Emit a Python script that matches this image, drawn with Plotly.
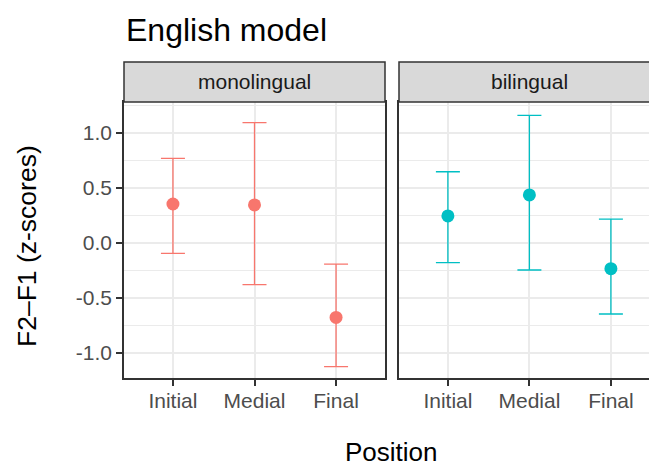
import plotly.graph_objects as go

positions = ["Initial", "Medial", "Final"]
panels = ["monolingual", "bilingual"]
mono_mean = [0.352, 0.343, -0.679]
mono_upper = [0.767, 1.091, -0.194]
mono_lower = [-0.097, -0.382, -1.127]
bi_mean = [0.243, 0.434, -0.236]
bi_upper = [0.645, 1.158, 0.215]
bi_lower = [-0.182, -0.248, -0.648]
y_tickvals = [-1.0, -0.5, 0.0, 0.5, 1.0]
y_ticktext = ["-1.0", "-0.5", "0.0", "0.5", "1.0"]

colors = ["#F8766D", "#00BFC4"]
FONT = "Liberation Sans, Arial, Helvetica, sans-serif"

W, H = 649, 468
ML, MR, MT, MB = 124, 0, 102, 90
PW = W - ML - MR
PH = H - MT - MB

fig = go.Figure()

series = [(mono_mean, mono_upper, mono_lower), (bi_mean, bi_upper, bi_lower)]
for i, (m, up, lo) in enumerate(series):
    fig.add_trace(go.Scatter(
        x=positions, y=m,
        mode="markers",
        marker=dict(color=colors[i], size=13),
        error_y=dict(type="data", symmetric=False,
                     array=[u - v for u, v in zip(up, m)],
                     arrayminus=[v - l for v, l in zip(m, lo)],
                     color=colors[i], thickness=1.3, width=12),
        xaxis="x" if i == 0 else "x2",
        yaxis="y" if i == 0 else "y2",
        showlegend=False, hoverinfo="skip",
    ))

step = 81.5  # px per category
left_w = 261
right_start = 275
d1 = [0, left_w / PW]
d2 = [right_start / PW, 1]
right_units = (PW - right_start) / step

xcommon = dict(type="category", categoryorder="array", categoryarray=positions,
               showgrid=True, gridcolor="#EBEBEB", gridwidth=2,
               ticks="outside", ticklen=6, tickwidth=1.5, tickcolor="#333333",
               tickfont=dict(family=FONT, size=21, color="#4D4D4D"),
               ticklabelstandoff=-3,
               showline=True, linecolor="#333333", linewidth=1.5, zeroline=False)
ycommon = dict(range=[(242.7 - 378) / 110, (242.7 - 102) / 110],
               tickvals=y_tickvals, ticktext=y_ticktext,
               showgrid=True, gridcolor="#EBEBEB", gridwidth=2,
               minor=dict(dtick=0.25, tick0=0, showgrid=True, gridcolor="#EBEBEB", gridwidth=1, ticks=""),
               zeroline=False, showline=True, linecolor="#333333", linewidth=1.5)

fig.update_layout(
    width=W, height=H,
    margin=dict(l=ML, r=MR, t=MT, b=MB, pad=0),
    paper_bgcolor="white", plot_bgcolor="white",
    xaxis=dict(domain=d1, range=[-0.6, 2.6], mirror=True, anchor="y", **xcommon),
    xaxis2=dict(domain=d2, range=[-0.6, -0.6 + right_units], mirror=True, anchor="y2", **xcommon),
    yaxis=dict(anchor="x", mirror=True, ticks="outside", ticklen=6, tickwidth=1.5,
               tickcolor="#333333", tickfont=dict(family=FONT, size=21, color="#4D4D4D"),
               **ycommon),
    yaxis2=dict(anchor="x2", matches="y", showticklabels=False, ticks="", mirror=False, **ycommon),
    font=dict(family=FONT),
)

strip_h = 40 / PH
shapes = []
for xr, x1 in [("x domain", 1), ("x2 domain", 1.05)]:
    shapes.append(dict(type="rect", xref=xr, yref="paper", x0=0, x1=x1, y0=1, y1=1 + strip_h,
                       fillcolor="#D9D9D9", line=dict(color="#333333", width=1.5), layer="above"))
fig.update_layout(shapes=shapes)

def py(p):
    return (H - MB - p) / PH

def px(p):
    return (p - ML) / PW

ann = []
centers = [(ML + ML + left_w) / 2, ML + right_start + 3.2 * step / 2]
for name, c in zip(panels, centers):
    ann.append(dict(text=name, x=px(c), y=py(82), xref="paper", yref="paper",
                    xanchor="center", yanchor="middle", showarrow=False,
                    font=dict(family=FONT, size=21, color="#1A1A1A")))
ann.append(dict(text="English model", x=0, y=py(30), xref="paper", yref="paper",
                xanchor="left", yanchor="middle", showarrow=False,
                font=dict(family=FONT, size=32, color="black")))
ann.append(dict(text="Position", x=px(391), y=py(452), xref="paper", yref="paper",
                xanchor="center", yanchor="middle", showarrow=False,
                font=dict(family=FONT, size=26, color="black")))
ann.append(dict(text="F2–F1 (z-scores)", x=px(27), y=py(246), xref="paper", yref="paper",
                xanchor="center", yanchor="middle", textangle=-90, showarrow=False,
                font=dict(family=FONT, size=26.5, color="black")))
fig.update_layout(annotations=ann)

fig.write_html("out.html", config={"displayModeBar": False},
               post_script="document.body.style.margin='0';document.body.style.overflow='hidden';")
